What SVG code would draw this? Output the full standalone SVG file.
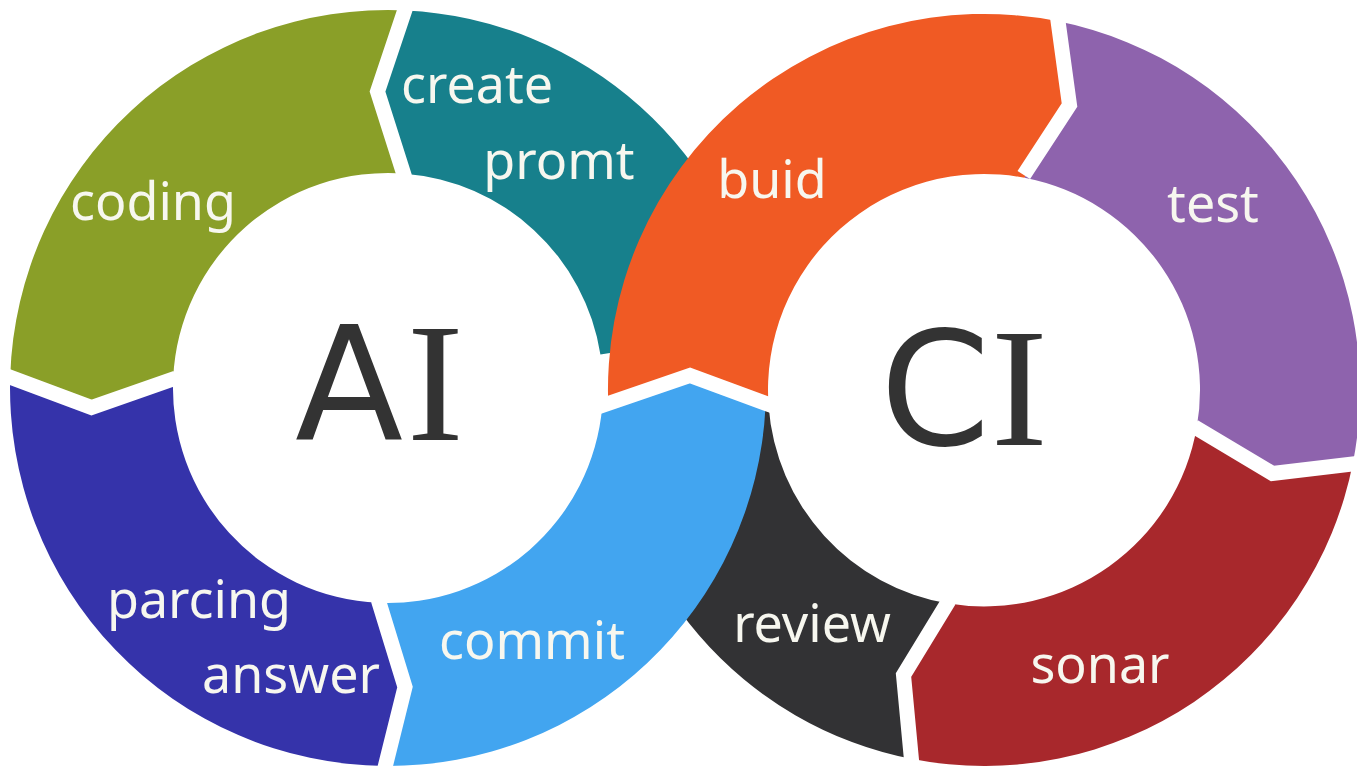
<svg xmlns="http://www.w3.org/2000/svg" width="1357" height="770" viewBox="0 0 1357 770">
  <style>
    .lbl { font-family: "Noto Sans", "Open Sans", sans-serif; font-size: 52px; fill: #f7f7ef; text-anchor: middle; }
    .hub { font-size: 158px; fill: #333333; }
    .hs { font-family: "DejaVu Sans", sans-serif; }
    .hi { font-family: "Liberation Serif", serif; font-size: 170px; }
    .gap { fill: none; stroke: #ffffff; stroke-width: 15; stroke-linejoin: miter; stroke-linecap: butt; }
  </style>
  <rect x="0" y="0" width="1357" height="770" fill="#ffffff"/>

  <!-- Left ring (AI) -->
  <g id="seg-create">
    <path d="M 761.3 328.9 A 378 378 0 0 0 405.8 10.4 L 377.5 91.5 L 404.9 173.7 A 215 215 0 0 1 600.4 354.4 Z" fill="#17808c"/>
    <text class="lbl" x="477" y="103">create</text>
    <text class="lbl" x="559" y="179">promt</text>
  </g>
  <g id="seg-coding">
    <path d="M 405.8 10.4 A 378 378 0 0 0 10.2 376.1 L 91.5 407.5 L 173.2 377.9 A 215 215 0 0 1 404.9 173.7 L 377.5 91.5 Z" fill="#8a9f28"/>
    <text class="lbl" x="153" y="220">coding</text>
  </g>
  <g id="seg-parcing">
    <path d="M 10.2 376.1 A 378 378 0 0 0 384.7 766 L 405 687 L 378.2 602.8 A 215 215 0 0 1 173.2 377.9 L 91.5 407.5 Z" fill="#3533aa"/>
    <text class="lbl" x="199" y="618">parcing</text>
    <text class="lbl" x="291" y="693">answer</text>
  </g>

  <!-- Right ring (CI) -->
  <g id="seg-buid">
    <path d="M 608.3 406 A 376 376 0 0 1 1057 21.1 L 1069.5 105 L 1024.5 177.8 A 216 216 0 0 0 768.6 406 L 690 375.5 Z" fill="#f05a24"/>
    <text class="lbl" x="772" y="198">buid</text>
  </g>
  <g id="seg-test">
    <path d="M 1057 21.1 A 376 376 0 0 1 1353 462.4 L 1272.5 473.5 L 1196.8 427.1 A 216 216 0 0 0 1024.5 177.8 L 1069.5 105 Z" fill="#8e63ad"/>
    <text class="lbl" x="1213" y="222">test</text>
  </g>
  <g id="seg-sonar">
    <path d="M 1353 462.4 A 376 376 0 0 1 912.3 759.1 L 903.5 675 L 948.5 603.5 A 216 216 0 0 0 1196.8 427.1 L 1272.5 473.5 Z" fill="#a8282c"/>
    <text class="lbl" x="1100" y="683">sonar</text>
  </g>
  <g id="seg-review">
    <path d="M 912.3 759.1 A 376 376 0 0 1 608.3 406 L 690 375.5 L 768.6 406 A 216 216 0 0 0 948.5 603.5 L 903.5 675 Z" fill="#323234"/>
    <text class="lbl" x="812" y="642">review</text>
  </g>

  <g id="seg-commit">
    <path d="M 384.7 766 A 378 378 0 0 0 765.5 407 L 690 375.5 L 602.2 407 A 215 215 0 0 1 378.2 602.8 L 405 687 Z" fill="#42a5f0"/>
    <text class="lbl" x="532" y="659">commit</text>
  </g>

  <!-- white separators between segments -->
  <g id="separators">
    <polyline class="gap" points="406.2,6 377.5,91.5 404.7,177"/>
    <polyline class="gap" points="7,376 91.5,407.5 176,378"/>
    <polyline class="gap" points="384.6,769 405,687 378.3,600"/>
    <polyline class="gap" points="598,407 690,375.5 773,406"/>
    <polyline class="gap" points="1057.6,18 1069.5,105 1023.8,175"/>
    <polyline class="gap" points="1357,463.5 1272.5,473.5 1194,426.6"/>
    <polyline class="gap" points="911.7,762 903.5,675 949,600.5"/>
  </g>

  <g id="hub-ai">
    <text class="hub" y="440"><tspan class="hs" x="295">A</tspan><tspan class="hi" x="407">I</tspan></text>
  </g>
  <g id="hub-ci">
    <text class="hub" y="445"><tspan class="hs" x="880">C</tspan><tspan class="hi" x="991">I</tspan></text>
  </g>
</svg>
